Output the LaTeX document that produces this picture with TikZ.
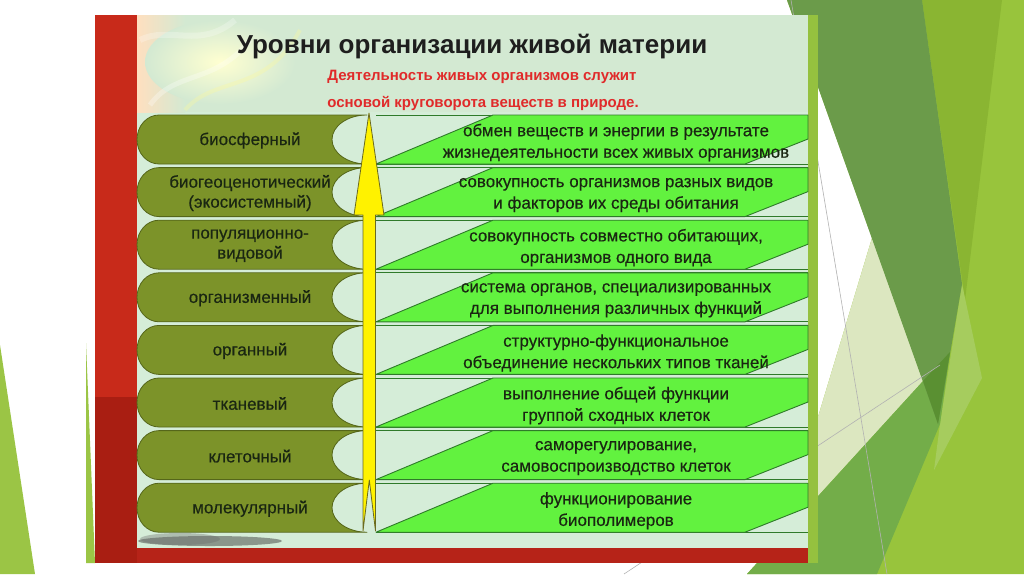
\documentclass[tikz,border=0pt]{standalone}
\usepackage{fontspec}
\setmainfont{Liberation Sans}
\newfontfamily\rowfont[FakeBold=0.4]{Liberation Sans}
\definecolor{pillfill}{HTML}{7C9329}
\definecolor{pillline}{HTML}{55661A}
\definecolor{palebg}{HTML}{D5EDD8}
\definecolor{topbg}{HTML}{D3E9D2}
\definecolor{bandgreen}{HTML}{62F23F}
\definecolor{bandline}{HTML}{2F7A2A}
\definecolor{arrowline}{HTML}{6A6A20}
\definecolor{redtxt}{HTML}{E02A2A}
\definecolor{txtdark}{HTML}{1A2612}
\definecolor{titletxt}{HTML}{1E1E1E}
\definecolor{frameredA}{HTML}{C82A1A}
\definecolor{frameredB}{HTML}{A91E12}
\definecolor{frameredC}{HTML}{B62318}
\definecolor{framegreen}{HTML}{95C13F}
\definecolor{decoY}{HTML}{98C43C}
\definecolor{decoB}{HTML}{8AB532}
\definecolor{decoA}{HTML}{6B9B4A}
\definecolor{decoAD}{HTML}{5A9032}
\definecolor{decoD}{HTML}{73AD49}
\definecolor{decoCream}{HTML}{DCE7C0}
\definecolor{decoLt}{HTML}{A6CC5E}
\definecolor{decoLeft}{HTML}{9BC545}
\usetikzlibrary{calc}
\begin{document}
\begin{tikzpicture}[x=1pt,y=-1pt,line join=round,
  pill/.style={fill=pillfill, draw=pillline, line width=0.8pt},
  band/.style={fill=bandgreen, draw=bandline, line width=0.9pt},
  rowline/.style={draw=bandline, line width=0.9pt},
  lefttxt/.style={font=\rowfont\fontsize{17}{20}\selectfont, text=txtdark, align=center, inner sep=0pt},
  righttxt/.style={font=\rowfont\fontsize{17}{21.5}\selectfont, text=txtdark, align=center, inner sep=0pt},
  thinline/.style={draw=gray!60, line width=0.6pt}]
\useasboundingbox (0,0) rectangle (1024,574);
\fill[white] (0,0) rectangle (1024,574);
% ---- slide decoration ----
\fill[decoY] (787,0) -- (1024,0) -- (1024,574) -- (747,574) -- (818,496) -- (818,417) -- (872,238) -- cycle;
\fill[decoB] (922,0) -- (1002,0) -- (965,300) -- cycle;
\fill[decoLt] (962,284) -- (982,378) -- (934,470) -- (940,424) -- cycle;
\fill[decoCream] (872,238) -- (818,417) -- (818,496) -- (923,381) -- cycle;
\fill[decoD] (747,574) -- (923,381) -- (950,352) -- (940,424) -- (877,574) -- cycle;
\fill[decoA] (787,0) -- (922,0) -- (962,284) -- (938,424) -- cycle;
\fill[decoAD] (923,381) -- (950,352) -- (938,424) -- cycle;
\draw[thinline] (624,574) -- (940,365);
\draw[thinline] (791,0) -- (887,574);
\fill[decoLeft] (0,345) -- (35,574) -- (0,574) -- cycle;
\fill[decoLeft] (86,343) -- (86,563) -- (95,563) -- cycle;
% ---- frame background ----
\fill[topbg] (137,15) rectangle (810,548);
\fill[palebg] (137,112) rectangle (810,548);
% smoke
\shade[left color=orange!25!white, right color=topbg] (137,15) rectangle (185,112);
\shade[inner color=yellow!18!white, outer color=topbg] (220,62) ellipse [x radius=75, y radius=42];
\draw[white, opacity=.3, line width=5pt] (150,105) .. controls (175,70) and (215,85) .. (250,40);
\draw[yellow!40!white, opacity=.3, line width=4pt] (185,110) .. controls (215,75) and (265,95) .. (300,30);
\draw[white, opacity=.25, line width=6pt] (140,40) .. controls (170,25) and (200,50) .. (235,20);
\fill[black!75, opacity=.5] (210,541) ellipse [x radius=72, y radius=5];
\fill[black!60, opacity=.35] (180,539) ellipse [x radius=40, y radius=6];
% ---- frame ----
\fill[frameredA] (95,15) rectangle (137,397);
\fill[frameredB] (95,397) rectangle (137,563);
\fill[frameredC] (137,548) rectangle (810,563);
\fill[framegreen] (808,15) rectangle (818,563);
% ---- title ----
\node[font=\bfseries\fontsize{26}{30}\selectfont, text=titletxt, inner sep=0pt] (title) at (472,47) {Уровни организации живой материи};
\node[font=\bfseries\fontsize{15}{17}\selectfont, text=redtxt, inner sep=0pt] (sub1) at (482,77) {Деятельность живых организмов служит};
\node[font=\bfseries\fontsize{15}{17}\selectfont, text=redtxt, inner sep=0pt] (sub2) at (483,103) {основой круговорота веществ в природе.};
% ---- rows ----
\foreach \i/\lt/\rt in {
 0/{биосферный}/{обмен веществ и энергии в результате\\жизнедеятельности всех живых организмов},
 1/{биогеоценотический\\(экосистемный)}/{совокупность организмов разных видов\\и факторов их среды обитания},
 2/{популяционно-\\видовой}/{совокупность совместно обитающих,\\организмов одного вида},
 3/{организменный}/{система органов, специализированных\\для выполнения различных функций},
 4/{органный}/{структурно-функциональное\\объединение нескольких типов тканей},
 5/{тканевый}/{выполнение общей функции\\группой сходных клеток},
 6/{клеточный}/{саморегулирование,\\самовоспроизводство клеток},
 7/{молекулярный}/{функционирование\\биополимеров}} {
  \pgfmathsetmacro{\T}{115+52.6*\i}
  \pgfmathsetmacro{\B}{\T+49}
  \pgfmathsetmacro{\M}{\T+24.5}
  \pgfmathsetmacro{\R}{\T+24}
  \path[pill] (367,\T) -- (159,\T) arc[start angle=270, end angle=90, x radius=22, y radius=24.5]
     -- (367,\B) arc[start angle=90, end angle=270, x radius=35, y radius=24.5] -- cycle;
  \path[rowline] (376,\T) -- (808,\T) (376,\B) -- (808,\B);
  \path[band] (376,\B) -- (493,\T) -- (808,\T) -- (808,\R) -- (745,\B) -- cycle;
  \node[lefttxt] (L\i) at (250,\M+1) {\lt};
  \node[righttxt] (R\i) at (616,\M+3) {\rt};
}
% ---- arrow ----
\path[fill=yellow, draw=arrowline, line width=0.8pt] (369,113) -- (384,215) -- (375.5,215) -- (375.5,531)
  -- (369.3,480) -- (363,531) -- (363,215) -- (354,215) -- cycle;
\end{tikzpicture}
\end{document}
